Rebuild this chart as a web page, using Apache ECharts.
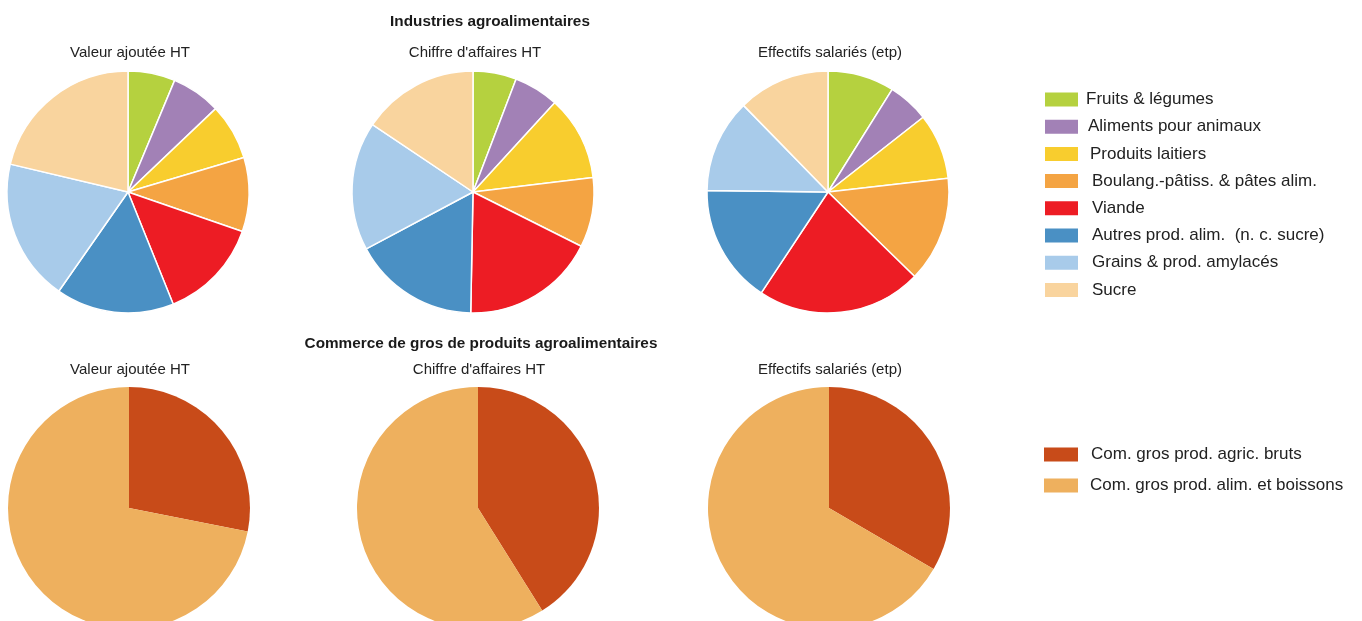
<!DOCTYPE html>
<html><head><meta charset="utf-8">
<script src="https://cdn.jsdelivr.net/npm/echarts@6/dist/echarts.min.js"></script>
<style>html,body{margin:0;padding:0;background:#fff}#c{width:1362px;height:621px}</style>
</head><body><div id="c"></div>
<script>
const industryCategories = ["Fruits & légumes","Aliments pour animaux","Produits laitiers","Boulang.-pâtiss. & pâtes alim.","Viande","Autres prod. alim.  (n. c. sucre)","Grains & prod. amylacés","Sucre"];
const industryColors = ["#B5D13F","#A281B6","#F8CD2E","#F4A443","#ED1C24","#4A90C4","#A8CBEA","#F9D49E"];
const industryVA = [6.3, 6.6, 7.5, 9.9, 13.6, 15.8, 19.0, 21.3];
const industryCA = [5.8, 6.0, 11.3, 9.3, 17.9, 16.9, 17.2, 15.6];
const industryEff = [8.9, 5.5, 8.8, 14.1, 22.0, 15.9, 12.5, 12.3];
const commerceCategories = ["Com. gros prod. agric. bruts","Com. gros prod. alim. et boissons"];
const commerceColors = ["#C84B19","#EEB05E"];
const commerceVA = [28.1, 71.9];
const commerceCA = [41.1, 58.9];
const commerceEff = [33.4, 66.6];
const subTitles = ["Valeur ajoutée HT","Chiffre d'affaires HT","Effectifs salariés (etp)"];
const FONT = "'Liberation Sans',Arial,sans-serif";

const chart = echarts.init(document.getElementById('c'), null, {renderer:'canvas'});
const topX = [128, 473, 828], botX = [129, 478, 829];
const R = 121;
function mk(cats, vals, colors, cx, cy, border) {
  return {
    type:'pie', center:[cx, cy], radius:[0, R], startAngle:90, clockwise:true,
    label:{show:false}, labelLine:{show:false}, silent:true, animation:false,
    itemStyle: border ? {borderColor:'#fff', borderWidth:1.5} : {borderWidth:0},
    data: cats.map((c,i)=>({name:c, value:vals[i], itemStyle:{color:colors[i]}}))
  };
}
const boldStyle = {fontFamily:FONT, fontSize:15.3, fontWeight:'bold', color:'#1a1a1a'};
const subStyle = {fontFamily:FONT, fontSize:15, fontWeight:'normal', color:'#222'};
const titles = [
  {text:'Industries agroalimentaires', left:490, top:14, textAlign:'center', padding:0, textStyle:boldStyle},
  {text:'Commerce de gros de produits agroalimentaires', left:481, top:336, textAlign:'center', padding:0, textStyle:boldStyle}
];
subTitles.forEach((s,i)=>{
  titles.push({text:s, left:topX[i]+2, top:45, textAlign:'center', padding:0, textStyle:subStyle});
  titles.push({text:s, left:botX[i]+1, top:362, textAlign:'center', padding:0, textStyle:subStyle});
});
const topIndent = [3,5,7,9,9,9,9,9];
const botIndent = [8,7];
chart.setOption({
  animation:false,
  title: titles,
  legend: [
    {data:industryCategories.map((c,i)=>({name:c, textStyle:{padding:[0,0,0,topIndent[i]]}})),
     orient:'vertical', left:1045, top:91, padding:0, itemWidth:33, itemHeight:14, itemGap:10.2,
     icon:'rect', itemStyle:{borderWidth:0}, selectedMode:false,
     textStyle:{fontFamily:FONT, fontSize:17, color:'#222'}},
    {data:commerceCategories.map((c,i)=>({name:c, textStyle:{padding:[0,0,0,botIndent[i]]}})),
     orient:'vertical', left:1044, top:446, padding:0, itemWidth:34, itemHeight:14, itemGap:14,
     icon:'rect', itemStyle:{borderWidth:0}, selectedMode:false,
     textStyle:{fontFamily:FONT, fontSize:17, color:'#222'}}
  ],
  series: [
    mk(industryCategories, industryVA, industryColors, topX[0], 192, true),
    mk(industryCategories, industryCA, industryColors, topX[1], 192, true),
    mk(industryCategories, industryEff, industryColors, topX[2], 192, true),
    mk(commerceCategories, commerceVA, commerceColors, botX[0], 508, false),
    mk(commerceCategories, commerceCA, commerceColors, botX[1], 508, false),
    mk(commerceCategories, commerceEff, commerceColors, botX[2], 508, false)
  ]
});
</script></body></html>
